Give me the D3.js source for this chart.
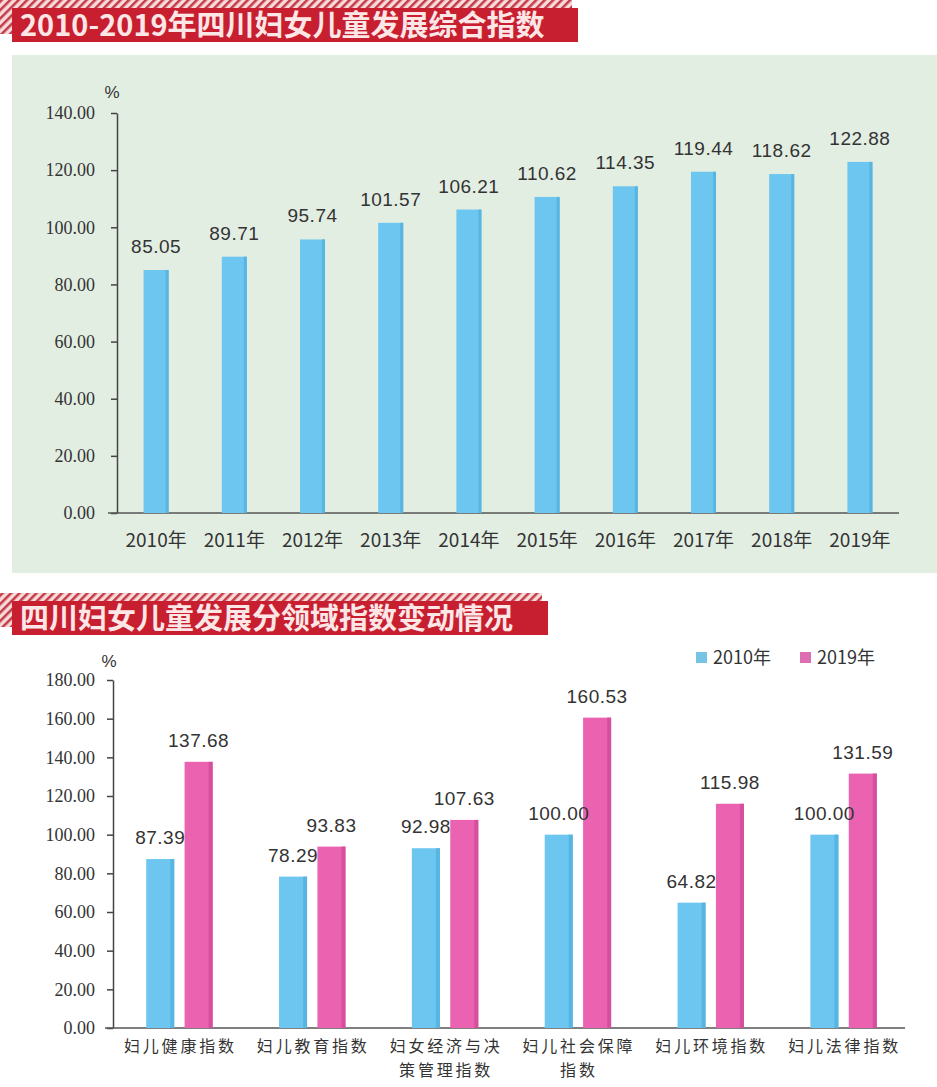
<!DOCTYPE html>
<html>
<head>
<meta charset="utf-8">
<script src="https://cdn.jsdelivr.net/npm/d3@7"></script>
<style>
  body { margin: 0; background: #fff; }
  svg { display: block; }
</style>
</head>
<body>
<div id="chart"></div>
<script>
// data
var years = ["2010年", "2011年", "2012年", "2013年", "2014年", "2015年", "2016年", "2017年", "2018年", "2019年"];
var composite = [85.05, 89.71, 95.74, 101.57, 106.21, 110.62, 114.35, 119.44, 118.62, 122.88];
var topTicks = [0, 20, 40, 60, 80, 100, 120, 140];

var fields = ["妇儿健康指数", "妇儿教育指数", "妇女经济与决策管理指数", "妇儿社会保障指数", "妇儿环境指数", "妇儿法律指数"];
var fieldLines = [["妇儿健康指数"], ["妇儿教育指数"], ["妇女经济与决", "策管理指数"], ["妇儿社会保障", "指数"], ["妇儿环境指数"], ["妇儿法律指数"]];
var series = ["2010年", "2019年"];
var v2010 = [87.39, 78.29, 92.98, 100.00, 64.82, 100.00];
var v2019 = [137.68, 93.83, 107.63, 160.53, 115.98, 131.59];
var bottomTicks = [0, 20, 40, 60, 80, 100, 120, 140, 160, 180];

var W = 937, H = 1087;
var blue = "#6cc6ef", blueDark = "#58b5e2";
var pink = "#ea62b0", pinkDark = "#d64f9e";
var cjk = '"Noto Sans CJK SC", "Liberation Sans", sans-serif';
var serif = '"Liberation Serif", "DejaVu Serif", serif';
var sans = '"Liberation Sans", Arial, sans-serif';

var svg = d3.select("#chart").append("svg")
  .attr("width", W)
  .attr("height", H);

// hatch pattern for the title banners
var defs = svg.append("defs");
var pat = defs.append("pattern")
  .attr("id", "hatch")
  .attr("patternUnits", "userSpaceOnUse")
  .attr("width", 6).attr("height", 6)
  .attr("patternTransform", "rotate(45)");
pat.append("rect").attr("width", 6).attr("height", 6).attr("fill", "#f7dada");
pat.append("rect").attr("width", 2.5).attr("height", 6).attr("fill", "#c43a46");

function banner(y, redW, text) {
  var g = svg.append("g");
  g.append("rect").attr("x", 0).attr("y", y - 8).attr("width", redW - 6).attr("height", 34)
    .attr("fill", "url(#hatch)");
  g.append("rect").attr("x", 12).attr("y", y).attr("width", redW - 12).attr("height", 34)
    .attr("fill", "#c81f30");
  g.append("text")
    .attr("x", 20).attr("y", y + 28)
    .attr("fill", "#fde6e6")
    .style("font-family", cjk)
    .style("font-size", "29px")
    .style("font-weight", "bold")
    .text(text);
}

function styleAxis(g, dx) {
  g.select(".domain").attr("stroke", "#444").attr("stroke-width", 1.5);
  g.selectAll(".tick line").attr("stroke", "#444").attr("stroke-width", 1.5);
  g.selectAll(".tick text")
    .attr("x", dx)
    .attr("fill", "#333")
    .style("font-family", serif)
    .style("font-size", "18px");
}

// ---------- top chart ----------
svg.append("rect")
  .attr("x", 12).attr("y", 55).attr("width", W - 12).attr("height", 518)
  .attr("fill", "#e3eee3");

banner(8, 578, "2010-2019年四川妇女儿童发展综合指数");

var x = d3.scaleBand()
  .domain(years)
  .range([117, 899])
  .paddingInner(0.68)
  .paddingOuter(0.34);

var y = d3.scaleLinear().domain([0, 140]).range([513, 113]);

var topG = svg.append("g");

topG.append("g")
  .attr("transform", "translate(117,0)")
  .call(d3.axisLeft(y).tickValues(topTicks).tickFormat(d3.format(".2f")).tickSize(6).tickSizeOuter(0))
  .call(styleAxis, -22);

topG.append("line")
  .attr("x1", 108).attr("x2", 899)
  .attr("y1", y(0)).attr("y2", y(0))
  .attr("stroke", "#555").attr("stroke-width", 1.5);

topG.append("text")
  .attr("x", 112).attr("y", 98)
  .attr("text-anchor", "middle")
  .attr("fill", "#333")
  .style("font-family", sans)
  .style("font-size", "17px")
  .text("%");

var bars = topG.selectAll(".bar").data(composite).enter().append("g");
bars.append("rect")
  .attr("x", function (d, i) { return x(years[i]); })
  .attr("y", function (d) { return y(d); })
  .attr("width", x.bandwidth())
  .attr("height", function (d) { return y(0) - y(d); })
  .attr("fill", blue);
bars.append("rect")
  .attr("x", function (d, i) { return x(years[i]) + x.bandwidth() - 3; })
  .attr("y", function (d) { return y(d); })
  .attr("width", 3)
  .attr("height", function (d) { return y(0) - y(d); })
  .attr("fill", blueDark);
bars.append("text")
  .attr("x", function (d, i) { return x(years[i]) + x.bandwidth() / 2; })
  .attr("y", function (d) { return y(d) - 17; })
  .attr("text-anchor", "middle")
  .attr("fill", "#333")
  .style("font-family", sans)
  .style("font-size", "19px")
  .style("letter-spacing", "0.5px")
  .text(function (d) { return d.toFixed(2); });

topG.selectAll(".xlab").data(years).enter().append("text")
  .attr("x", function (d) { return x(d) + x.bandwidth() / 2; })
  .attr("y", 547)
  .attr("text-anchor", "middle")
  .attr("fill", "#333")
  .style("font-family", cjk)
  .style("font-size", "19px")
  .text(function (d) { return d; });

// ---------- bottom chart ----------
banner(601, 548, "四川妇女儿童发展分领域指数变动情况");

var x0 = d3.scaleBand()
  .domain(fields)
  .range([113, 910])
  .paddingInner(0.5)
  .paddingOuter(0.25);

var x1 = d3.scaleBand()
  .domain(series)
  .range([0, x0.bandwidth()])
  .paddingInner(0.27);

var y2 = d3.scaleLinear().domain([0, 180]).range([1028, 680]);

var bot = svg.append("g");

bot.append("g")
  .attr("transform", "translate(113,0)")
  .call(d3.axisLeft(y2).tickValues(bottomTicks).tickFormat(d3.format(".2f")).tickSize(6).tickSizeOuter(0))
  .call(styleAxis, -18);

bot.append("line")
  .attr("x1", 105).attr("x2", 905)
  .attr("y1", y2(0)).attr("y2", y2(0))
  .attr("stroke", "#555").attr("stroke-width", 1.5);

bot.append("text")
  .attr("x", 109).attr("y", 667)
  .attr("text-anchor", "middle")
  .attr("fill", "#333")
  .style("font-family", sans)
  .style("font-size", "17px")
  .text("%");

var rows = fields.map(function (f, i) { return [v2010[i], v2019[i]]; });
var colors = [[blue, blueDark], [pink, pinkDark]];

var barLayer = bot.append("g");
var labelLayer = bot.append("g");

var groups = barLayer.selectAll(".grp").data(rows).enter().append("g")
  .attr("transform", function (d, i) { return "translate(" + x0(fields[i]) + ",0)"; });

var cell = groups.selectAll("g").data(function (d) { return d; }).enter().append("g");
cell.append("rect")
  .attr("x", function (d, j) { return x1(series[j]); })
  .attr("y", function (d) { return y2(d); })
  .attr("width", x1.bandwidth())
  .attr("height", function (d) { return y2(0) - y2(d); })
  .attr("fill", function (d, j) { return colors[j][0]; });
cell.append("rect")
  .attr("x", function (d, j) { return x1(series[j]) + x1.bandwidth() - 4; })
  .attr("y", function (d) { return y2(d); })
  .attr("width", 4)
  .attr("height", function (d) { return y2(0) - y2(d); })
  .attr("fill", function (d, j) { return colors[j][1]; });

// value labels drawn above all bars
labelLayer.selectAll("g").data(rows).enter().append("g")
  .attr("transform", function (d, i) { return "translate(" + x0(fields[i]) + ",0)"; })
  .selectAll("text").data(function (d) { return d; }).enter().append("text")
  .attr("x", function (d, j) { return x1(series[j]) + x1.bandwidth() / 2; })
  .attr("y", function (d) { return y2(d) - 15; })
  .attr("text-anchor", "middle")
  .attr("fill", "#333")
  .style("font-family", sans)
  .style("font-size", "19px")
  .style("letter-spacing", "0.5px")
  .text(function (d) { return d.toFixed(2); });

// one text per label line
var labs = bot.selectAll(".cat").data(fieldLines).enter().append("g")
  .attr("transform", function (d, i) { return "translate(" + (x0(fields[i]) + x0.bandwidth() / 2 + 1) + ",1052)"; });
labs.selectAll("text").data(function (d) { return d; }).enter().append("text")
  .attr("y", function (d, k) { return k * 23.5; })
  .attr("text-anchor", "middle")
  .attr("fill", "#333")
  .style("font-family", cjk)
  .style("font-size", "16px")
  .style("letter-spacing", "2.8px")
  .text(function (d) { return d; });

// legend
var legend = bot.selectAll(".leg").data(series).enter().append("g")
  .attr("transform", function (d, i) { return "translate(" + (696 + i * 104) + ",652)"; });
legend.append("rect")
  .attr("width", 11).attr("height", 11)
  .attr("fill", function (d, i) { return i === 0 ? "#76c4e3" : "#dc6fb2"; });
legend.append("text")
  .attr("x", 17).attr("y", 12)
  .attr("fill", "#333")
  .style("font-family", cjk)
  .style("font-size", "18px")
  .text(function (d) { return d; });
</script>
</body>
</html>
